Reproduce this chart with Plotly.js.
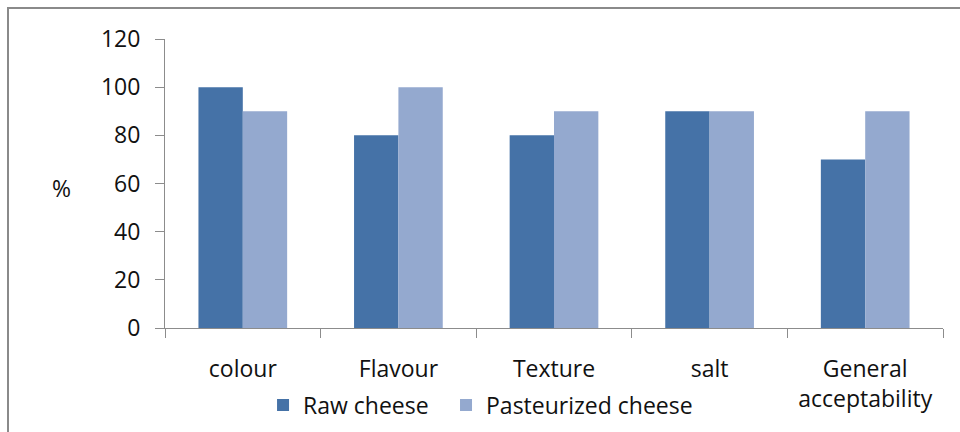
<!DOCTYPE html>
<html>
<head>
<meta charset="utf-8">
<script src="https://cdn.plot.ly/plotly-3.0.1.min.js"></script>
<style>
  html, body { margin: 0; padding: 0; background: #fff; }
  #wrap { position: relative; width: 960px; height: 432px; overflow: hidden; }
  #frame { position: absolute; left: 7px; top: 7px; width: 1000px; height: 500px;
           border: 2px solid #8a8a8a; box-sizing: border-box; pointer-events: none; }
  #chart { position: absolute; left: 0; top: 0; width: 960px; height: 432px; }
</style>
</head>
<body>
<div id="wrap">
  <div id="chart"></div>
  <div id="frame"></div>
</div>
<script>
// Sensory scores (%) for raw and pasteurized cheese
const attributes = ["colour", "Flavour", "Texture", "salt", "General<br>acceptability"];
const rawCheese = [100, 80, 80, 90, 70];
const pasteurizedCheese = [90, 100, 90, 90, 90];
const yTicks = [0, 20, 40, 60, 80, 100, 120];

const fontFamily = "'Open Sans', sans-serif";
const textColor = "#111";
const axisColor = "#8c8c8c";
const fontSize = 23;

const traces = [
  { type: "bar", name: "Raw cheese", x: attributes, y: rawCheese,
    marker: { color: "#4572a7" }, legend: "legend" },
  { type: "bar", name: "Pasteurized cheese", x: attributes, y: pasteurizedCheese,
    marker: { color: "#94a9cf" }, legend: "legend2" }
];

// one legend per series so each entry sits at its own spot along the bottom
function legendAt(x) {
  return {
    orientation: "h", xref: "container", yref: "container",
    x: x, xanchor: "left", y: 0.0625, yanchor: "middle",
    font: { family: fontFamily, size: fontSize, color: textColor },
    bgcolor: "rgba(0,0,0,0)"
  };
}

const layout = {
  width: 960, height: 432,
  margin: { l: 165, r: 17, t: 39, b: 104, pad: 0 },
  paper_bgcolor: "#fff", plot_bgcolor: "#fff",
  font: { family: fontFamily, size: fontSize, color: textColor },
  barmode: "group", bargap: 0.43, bargroupgap: 0,
  showlegend: true,
  legend: legendAt(0.274),
  legend2: legendAt(0.4646),
  xaxis: {
    type: "category",
    showline: true, linecolor: axisColor, linewidth: 1,
    ticks: "outside", ticklen: 9, tickcolor: axisColor, tickson: "boundaries",
    showgrid: false, zeroline: false,
    tickfont: { family: fontFamily, size: fontSize, color: textColor },
    ticklabelstandoff: 20
  },
  yaxis: {
    range: [0, 120], tickvals: yTicks,
    showline: true, linecolor: axisColor, linewidth: 1,
    ticks: "outside", ticklen: 9, tickcolor: axisColor,
    showgrid: false, zeroline: false,
    tickfont: { family: fontFamily, size: fontSize, color: textColor },
    ticklabelstandoff: 10
  },
  annotations: [
    { text: "%", xref: "paper", yref: "paper", x: -0.133, y: 0.485,
      xanchor: "center", yanchor: "middle", showarrow: false,
      font: { family: fontFamily, size: fontSize, color: textColor } }
  ]
};

Plotly.newPlot("chart", traces, layout, { staticPlot: true, displayModeBar: false });
</script>
</body>
</html>
